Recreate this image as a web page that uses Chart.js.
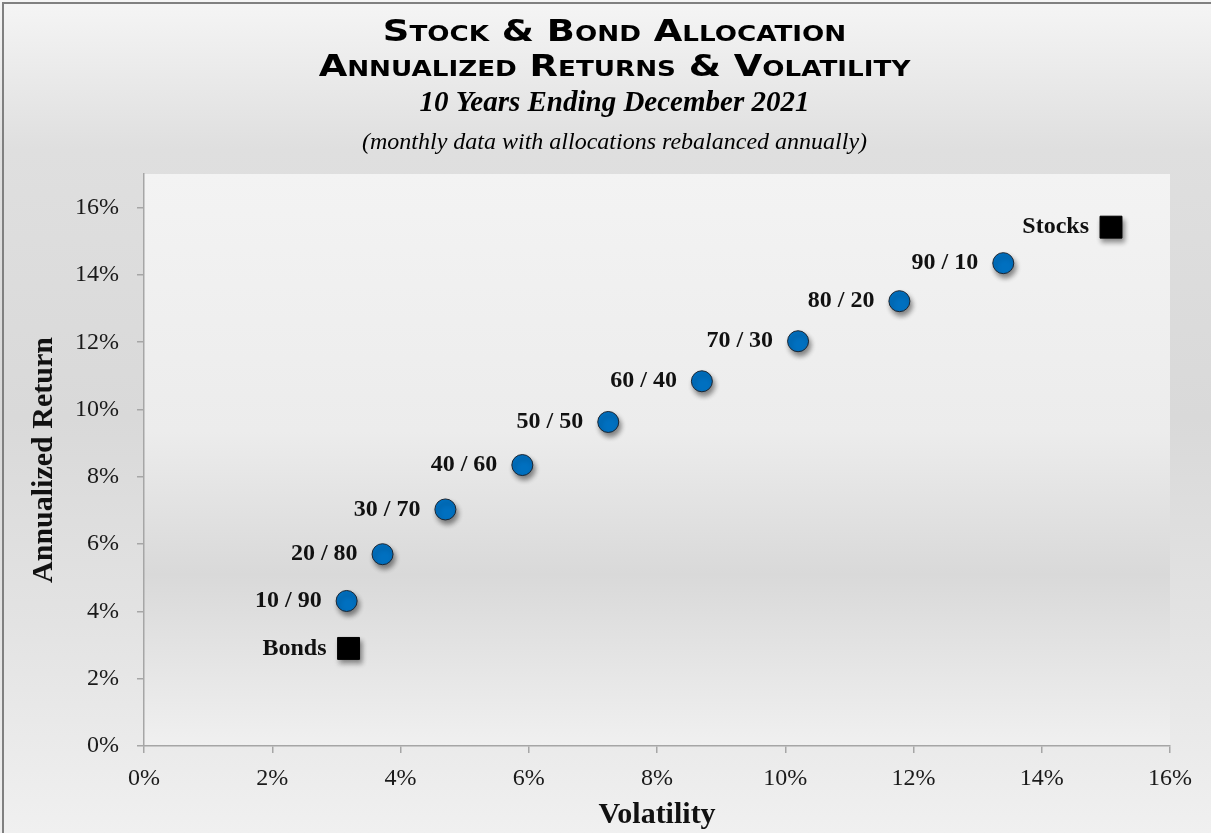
<!DOCTYPE html>
<html>
<head>
<meta charset="utf-8">
<script src="https://cdn.jsdelivr.net/npm/chart.js@4"></script>
<style>
  html, body { margin: 0; padding: 0; background: #fff; }
</style>
</head>
<body>
<canvas id="chart" width="1211" height="833"></canvas>
<script>
// Stock & bond allocation: annualized return vs volatility

const mixLabels = ["10 / 90", "20 / 80", "30 / 70", "40 / 60", "50 / 50", "60 / 40", "70 / 30", "80 / 20", "90 / 10"];
const mixVolatility = [3.16, 3.72, 4.70, 5.90, 7.24, 8.70, 10.20, 11.78, 13.40];
const mixReturn = [4.31, 5.70, 7.03, 8.35, 9.63, 10.84, 12.03, 13.22, 14.35];

const assetLabels = ["Bonds", "Stocks"];
const assetVolatility = [3.19, 15.08];
const assetReturn = [2.90, 15.42];

const xTicks = [0, 2, 4, 6, 8, 10, 12, 14, 16];
const yTicks = [0, 2, 4, 6, 8, 10, 12, 14, 16];

const titleLines = ["Stock & Bond Allocation", "Annualized Returns & Volatility"];
const subTitle = "10 Years Ending December 2021";
const noteLine = "(monthly data with allocations rebalanced annually)";

const SERIF = "'Liberation Serif', 'Times New Roman', serif";

function toPoints(xs, ys, labels) {
  return xs.map((x, i) => ({ x: x, y: ys[i], label: labels[i] }));
}

// backgrounds, frame and header
const backdrop = {
  id: "backdrop",
  beforeDraw(chart) {
    const { ctx, width, height, chartArea: a } = chart;
    ctx.save();
    const g = ctx.createLinearGradient(0, 0, 0, height);
    g.addColorStop(0, "#f5f5f5");
    g.addColorStop(0.18, "#dfdfdf");
    g.addColorStop(0.5, "#d9d9d9");
    g.addColorStop(0.75, "#e3e3e3");
    g.addColorStop(1, "#f0f0f0");
    ctx.fillStyle = g;
    ctx.fillRect(0, 0, width, height);

    const p = ctx.createLinearGradient(0, a.top, 0, a.bottom);
    p.addColorStop(0, "#f3f3f3");
    p.addColorStop(0.45, "#ececec");
    p.addColorStop(0.7, "#d9d9d9");
    p.addColorStop(1, "#f0f0f0");
    ctx.fillStyle = p;
    ctx.fillRect(a.left, a.top, a.right - a.left, a.bottom - a.top);

    ctx.strokeStyle = "#808080";
    ctx.lineWidth = 2;
    ctx.strokeRect(3, 3, width + 10, height + 10);
    ctx.restore();
  },
  afterDraw(chart) {
    const { ctx, width } = chart;
    const cx = width / 2 + 9;
    ctx.save();
    ctx.fillStyle = "#000";
    ctx.textAlign = "center";
    ctx.textBaseline = "middle";

    // wide engraved-style small caps
    ctx.save();
    ctx.font = "small-caps bold 31px 'DejaVu Sans'";
    if ("fontVariantCaps" in ctx) ctx.fontVariantCaps = "small-caps";
    ctx.translate(cx, 0);
    ctx.scale(1.19, 1);
    ctx.fillText(titleLines[0], 0, 33);
    ctx.fillText(titleLines[1], 0, 68);
    ctx.restore();

    ctx.font = "italic bold 29px " + SERIF;
    ctx.fillText(subTitle, cx, 104);
    ctx.font = "italic 24px " + SERIF;
    ctx.fillText(noteLine, cx, 143);
    ctx.restore();
  }
};

// drop shadow under markers, point labels on the left
const markerDecor = {
  id: "markerDecor",
  beforeDatasetsDraw(chart) {
    const ctx = chart.ctx;
    ctx.save();
    ctx.shadowColor = "rgba(0,0,0,0.45)";
    ctx.shadowBlur = 5;
    ctx.shadowOffsetX = 2;
    ctx.shadowOffsetY = 4;
  },
  afterDatasetsDraw(chart) {
    const ctx = chart.ctx;
    ctx.restore();
    ctx.save();
    ctx.fillStyle = "#111";
    ctx.font = "bold 24px " + SERIF;
    ctx.textAlign = "right";
    ctx.textBaseline = "middle";
    chart.data.datasets.forEach((ds, di) => {
      const gap = di === 0 ? 25 : 22;
      chart.getDatasetMeta(di).data.forEach((pt, i) => {
        ctx.fillText(ds.data[i].label, pt.x - gap, pt.y);
      });
    });
    ctx.restore();
  }
};

const tickFont = { family: SERIF, size: 24 };
const titleFont = { family: SERIF, size: 30, weight: "bold" };

new Chart(document.getElementById("chart"), {
  type: "scatter",
  data: {
    datasets: [
      {
        label: "Allocations",
        data: toPoints(mixVolatility, mixReturn, mixLabels),
        pointStyle: "circle",
        pointRadius: 10.5,
        pointHoverRadius: 10.5,
        backgroundColor: "#0070c0",
        borderColor: "#1b2633",
        borderWidth: 1
      },
      {
        label: "Assets",
        data: toPoints(assetVolatility, assetReturn, assetLabels),
        pointStyle: "rect",
        pointRadius: 15.5,
        pointHoverRadius: 15.5,
        backgroundColor: "#000",
        borderColor: "#000",
        borderWidth: 1
      }
    ]
  },
  options: {
    responsive: false,
    animation: false,
    devicePixelRatio: 1,
    layout: { padding: { top: 174, right: 41, left: 0, bottom: 0 } },
    plugins: {
      legend: { display: false },
      tooltip: { enabled: false }
    },
    scales: {
      x: {
        type: "linear",
        min: 0,
        max: 16,
        afterBuildTicks: (s) => { s.ticks = xTicks.map((v) => ({ value: v })); },
        afterFit: (s) => { s.height = 87; },
        ticks: { callback: (v) => v + "%", color: "#1a1a1a", font: tickFont, padding: 11, maxRotation: 0 },
        grid: { drawOnChartArea: false, drawTicks: true, tickLength: 7, color: "#a6a6a6", lineWidth: 1.5 },
        border: { color: "#a6a6a6", width: 1.5 },
        title: { display: true, text: "Volatility", color: "#111", font: titleFont, padding: { top: 0, bottom: 0 } }
      },
      y: {
        type: "linear",
        min: 0,
        max: 17,
        afterBuildTicks: (s) => { s.ticks = yTicks.map((v) => ({ value: v })); },
        afterFit: (s) => { s.width = 144; },
        ticks: { callback: (v) => v + "%", color: "#1a1a1a", font: tickFont, padding: 18 },
        grid: { drawOnChartArea: false, drawTicks: true, tickLength: 7, color: "#a6a6a6", lineWidth: 1.5 },
        border: { color: "#a6a6a6", width: 1.5 },
        title: { display: true, text: "Annualized Return", color: "#111", font: titleFont, padding: { top: 26, bottom: 0 } }
      }
    }
  },
  plugins: [backdrop, markerDecor]
});
</script>
</body>
</html>
